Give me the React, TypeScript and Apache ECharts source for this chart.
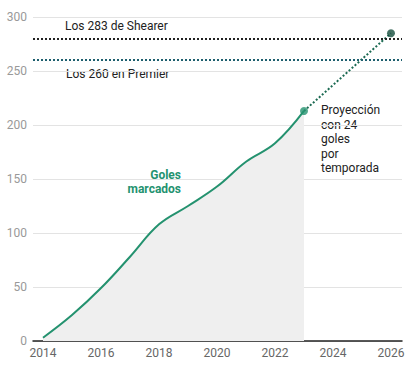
import React, { useEffect, useRef } from "react";
import * as echarts from "echarts";

const years = [2014, 2015, 2016, 2017, 2018, 2019, 2020, 2021, 2022, 2023];
const goals = [3, 24, 49, 78, 108, 125, 143, 166, 183, 213];
const projYears = [2023, 2026];
const projGoals = [213, 285];
const shearerValue = 280;
const premierValue = 260;
const xTickLabels = [2014, 2016, 2018, 2020, 2022, 2024, 2026];
const shearerText = "Los 283 de Shearer";
const premierText = "Los 260 en Premier";
const seriesText = "Goles\nmarcados";
const projText = "Proyección\ncon 24\ngoles\npor\ntemporada";

const FONT = "Roboto, 'Noto Sans', sans-serif";

export default function App() {
  const ref = useRef<HTMLDivElement>(null);
  useEffect(() => {
    if (!ref.current) return;
    const chart = echarts.init(ref.current, null, { renderer: "svg" });
    const main = years.map((y, i) => [y, goals[i]]);
    const proj = projYears.map((y, i) => [y, projGoals[i]]);
    chart.setOption({
      animation: false,
      textStyle: { fontFamily: FONT },
      grid: { left: 33, right: 10, top: 17, bottom: 31 },
      xAxis: {
        type: "value",
        min: 2014 - 10 / 29,
        max: 2026 + 11 / 29,
        axisLine: { show: true, lineStyle: { color: "#222", width: 1.5 } },
        axisTick: { show: false },
        splitLine: { show: false },
        axisLabel: {
          customValues: xTickLabels,
          formatter: (v: number) => String(v),
          color: "#666",
          fontSize: 12,
          margin: 6,
          fontFamily: FONT,
        },
      },
      yAxis: {
        type: "value",
        min: 0,
        max: 300,
        interval: 50,
        axisLine: { show: false },
        axisTick: { show: false },
        splitLine: { lineStyle: { color: "#e3e3e3", width: 1 } },
        axisLabel: { color: "#999", fontSize: 12, margin: 6, fontFamily: FONT },
      },
      series: [
        {
          type: "line",
          data: main,
          smooth: 0.4,
          symbol: "none",
          lineStyle: { color: "#24926f", width: 2 },
          areaStyle: { color: "#efefef", opacity: 1 },
          z: 2,
          markLine: {
            silent: true,
            symbol: "none",
            label: { show: false },
            data: [
              { yAxis: shearerValue, lineStyle: { color: "#222", type: [2, 2], width: 2 } },
              { yAxis: premierValue, lineStyle: { color: "#1d5f6e", type: [2, 2], width: 2 } },
            ],
          },
        },
        {
          type: "line",
          data: proj,
          symbol: "none",
          lineStyle: { color: "#1b6a52", type: [2, 2], width: 2 },
          z: 3,
        },
        {
          type: "scatter",
          data: [
            { value: proj[0], itemStyle: { color: "#24926f" } },
            { value: proj[1], itemStyle: { color: "#174f3e" } },
          ],
          symbolSize: 8,
          z: 4,
        },
      ],
      graphic: [
        {
          type: "text",
          left: 65,
          top: 20,
          style: { text: shearerText, fill: "#222", font: `12px ${FONT}` },
        },
        {
          type: "text",
          left: 66,
          top: 68,
          style: { text: premierText, fill: "#222", font: `12px ${FONT}` },
        },
        {
          type: "text",
          x: 181,
          y: 168,
          style: {
            text: seriesText,
            fill: "#24926f",
            font: `bold 12px ${FONT}`,
            align: "right",
            verticalAlign: "top",
            lineHeight: 14.3,
          },
        },
        {
          type: "text",
          x: 321,
          y: 103,
          style: {
            text: projText,
            fill: "#222",
            font: `12px ${FONT}`,
            align: "left",
            verticalAlign: "top",
            lineHeight: 14.5,
          },
        },
      ],
    });
    return () => chart.dispose();
  }, []);
  return <div ref={ref} style={{ width: 412, height: 372, position: "absolute", left: 0, top: 0 }} />;
}
